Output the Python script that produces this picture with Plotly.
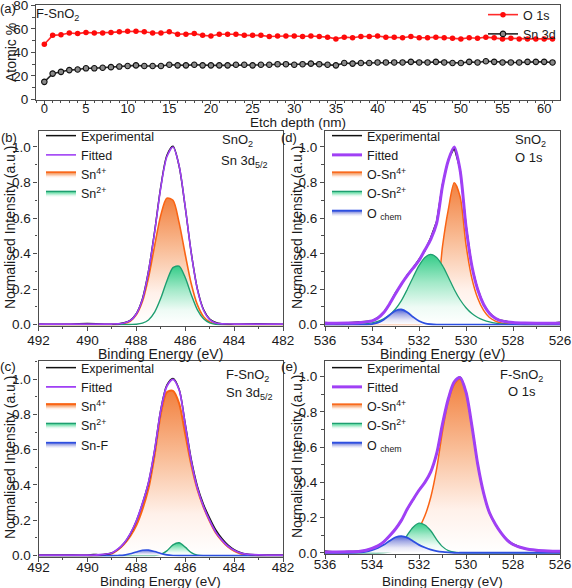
import plotly.graph_objects as go

# ---------------- data: panel (a) depth profile ----------------
depth_nm = list(range(62))
o1s_pct = [47, 54.5, 55, 56.5, 56, 57, 56.5, 56.5, 57, 57.5,
           58, 58, 57.5, 56.5, 56.5, 57.5, 55.5, 55.5, 56, 54.5,
           54, 55.5, 55.5, 55.5, 54.5, 54.5, 54.5, 53.5, 54, 54,
           54, 53.5, 54, 53.5, 53, 51.5, 53, 52.5, 53.5, 53.5,
           54, 53, 53, 52.5, 53.5, 52.5, 52.5, 53, 52.5, 52,
           51.5, 52.5, 52, 53, 52.5, 51.5, 52, 51.5, 51.5, 51.5,
           51.5, 51.5]
sn3d_pct = [15, 22, 23.5, 25, 25.5, 26.5, 26.5, 27, 27.5, 28,
            28.5, 29, 28.5, 28.5, 28.5, 29.5, 29, 29, 29.5, 29,
            29, 29, 29, 29.5, 29.5, 29, 29.5, 29.5, 30, 30,
            29.5, 30, 30.5, 30, 29.5, 29, 31, 30.5, 31, 31,
            31.5, 31.5, 31.5, 31.5, 32, 31.5, 31.5, 32, 31.5, 31,
            31, 32, 31.5, 32.5, 32, 31.5, 31.5, 31.5, 32, 32,
            32, 31.5]

# ---------------- data: panel (b) SnO2 Sn 3d5/2 ----------------
be_b = [492, 491, 490, 489, 488.75, 488.5, 488.25, 488, 487.75, 487.5, 487.25, 487,
        486.75, 486.5, 486.25, 486, 485.75, 485.5, 485.25, 485, 484.75, 484.5, 484, 483, 482]
b_exp = [0.004, 0.002, 0.006, 0.002, 0.004, 0.010, 0.024, 0.062, 0.145, 0.302, 0.525, 0.775,
         0.952, 1.004, 0.893, 0.662, 0.402, 0.200, 0.085, 0.032, 0.012, 0.005, 0.002, 0.005, 0.002]
b_fit = [0.003, 0.003, 0.003, 0.003, 0.004, 0.009, 0.022, 0.060, 0.141, 0.300, 0.520, 0.770,
         0.945, 1.000, 0.895, 0.664, 0.400, 0.197, 0.081, 0.028, 0.009, 0.004, 0.003, 0.003, 0.003]
b_sn4 = [0, 0, 0, 0, 0.001, 0.006, 0.019, 0.055, 0.130, 0.265, 0.445, 0.615,
         0.712, 0.700, 0.574, 0.396, 0.229, 0.111, 0.045, 0.015, 0.004, 0.001, 0, 0, 0]
b_sn2 = [0, 0, 0, 0, 0, 0, 0.001, 0.002, 0.008, 0.026, 0.070, 0.148,
         0.246, 0.321, 0.329, 0.265, 0.168, 0.083, 0.033, 0.010, 0.002, 0, 0, 0, 0]

# ---------------- data: panel (c) F-SnO2 Sn 3d5/2 ----------------
be_c = [492, 491, 490, 489.75, 489.5, 489, 488.75, 488.5, 488.25, 488, 487.75, 487.5,
        487.25, 487, 486.75, 486.5, 486.25, 486, 485.75, 485.5, 485.25, 485, 484.75,
        484.5, 484.25, 484, 483.75, 483.5, 483, 482]
c_exp = [0.003, 0.004, 0.002, 0.007, 0.005, 0.015, 0.036, 0.070, 0.122, 0.195, 0.294, 0.414,
         0.596, 0.825, 0.965, 1.003, 0.942, 0.748, 0.543, 0.392, 0.290, 0.212, 0.145,
         0.097, 0.060, 0.034, 0.018, 0.009, 0.004, 0.003]
c_fit = [0.003, 0.003, 0.003, 0.003, 0.005, 0.015, 0.037, 0.071, 0.123, 0.196, 0.295, 0.415,
         0.597, 0.822, 0.959, 0.998, 0.939, 0.741, 0.533, 0.381, 0.278, 0.199, 0.133,
         0.088, 0.053, 0.030, 0.015, 0.008, 0.004, 0.003]
c_sn4 = [0, 0, 0, 0, 0.002, 0.012, 0.033, 0.065, 0.110, 0.172, 0.262, 0.381,
         0.570, 0.800, 0.925, 0.933, 0.863, 0.690, 0.513, 0.375, 0.275, 0.196, 0.130,
         0.085, 0.050, 0.027, 0.012, 0.005, 0.001, 0]
c_sn2 = [0, 0, 0, 0, 0, 0, 0, 0, 0, 0, 0, 0,
         0.001, 0.007, 0.027, 0.061, 0.073, 0.048, 0.017, 0.003, 0, 0, 0,
         0, 0, 0, 0, 0, 0, 0]
c_snf = [0, 0, 0, 0, 0, 0, 0.001, 0.003, 0.010, 0.021, 0.030, 0.031,
         0.023, 0.012, 0.004, 0.001, 0, 0, 0, 0, 0, 0, 0,
         0, 0, 0, 0, 0, 0, 0]

# ---------------- data: panel (d) SnO2 O 1s ----------------
be_d = [536, 535.5, 535, 534.5, 534, 533.75, 533.5, 533.25, 533, 532.75, 532.5, 532.25,
        532, 531.75, 531.5, 531.25, 531, 530.75, 530.5, 530.25, 530, 529.75, 529.5,
        529.25, 529, 528.75, 528.5, 528, 527.5, 527, 526.5, 526]
d_exp = [0.012, 0.006, 0.010, 0.015, 0.020, 0.040, 0.070, 0.115, 0.180, 0.225, 0.280, 0.320,
         0.365, 0.415, 0.490, 0.580, 0.790, 0.930, 0.995, 0.875, 0.560, 0.325, 0.200,
         0.110, 0.066, 0.034, 0.024, 0.012, 0.007, 0.011, 0.006, 0.013]
d_fit = [0.008, 0.008, 0.009, 0.012, 0.021, 0.037, 0.068, 0.117, 0.174, 0.228, 0.276, 0.318,
         0.361, 0.420, 0.480, 0.570, 0.780, 0.925, 1.000, 0.868, 0.553, 0.330, 0.196,
         0.113, 0.063, 0.036, 0.021, 0.012, 0.009, 0.008, 0.008, 0.008]
d_osn4 = [0, 0, 0, 0, 0, 0, 0, 0, 0, 0, 0, 0,
          0.001, 0.008, 0.035, 0.130, 0.440, 0.650, 0.798, 0.720, 0.450, 0.260, 0.148,
          0.080, 0.040, 0.020, 0.009, 0.003, 0.001, 0, 0, 0]
d_osn2 = [0, 0, 0.001, 0.003, 0.010, 0.018, 0.032, 0.055, 0.088, 0.135, 0.198, 0.267,
          0.332, 0.378, 0.395, 0.378, 0.332, 0.267, 0.198, 0.140, 0.095, 0.062, 0.040,
          0.025, 0.015, 0.008, 0.004, 0.001, 0, 0, 0, 0]
d_ochem = [0, 0, 0, 0, 0.003, 0.011, 0.028, 0.054, 0.078, 0.085, 0.070, 0.043,
           0.020, 0.007, 0.002, 0, 0, 0, 0, 0, 0, 0, 0,
           0, 0, 0, 0, 0, 0, 0, 0, 0]

# ---------------- data: panel (e) F-SnO2 O 1s ----------------
be_e = [536, 535.5, 535, 534.5, 534.25, 534, 533.75, 533.5, 533.25, 533, 532.75, 532.5,
        532.25, 532, 531.75, 531.5, 531.25, 531, 530.75, 530.5, 530.25, 530, 529.75,
        529.5, 529.25, 529, 528.75, 528.5, 528.25, 528, 527.5, 527, 526.5, 526]
e_exp = [0.010, 0.004, 0.007, 0.008, 0.015, 0.024, 0.040, 0.064, 0.095, 0.136, 0.183, 0.247,
         0.302, 0.356, 0.400, 0.460, 0.563, 0.732, 0.877, 0.972, 0.997, 0.912, 0.722,
         0.502, 0.339, 0.227, 0.162, 0.112, 0.074, 0.050, 0.025, 0.013, 0.009, 0.007]
e_fit = [0.005, 0.005, 0.006, 0.009, 0.0145, 0.025, 0.039, 0.062, 0.096, 0.135, 0.184, 0.248,
         0.303, 0.355, 0.400, 0.460, 0.563, 0.732, 0.876, 0.970, 0.995, 0.912, 0.722,
         0.502, 0.339, 0.227, 0.162, 0.112, 0.072, 0.047, 0.024, 0.014, 0.010, 0.008]
e_osn4 = [0.003, 0.003, 0.004, 0.005, 0.0065, 0.008, 0.010, 0.014, 0.021, 0.030, 0.042, 0.060,
          0.090, 0.140, 0.210, 0.315, 0.476, 0.690, 0.860, 0.955, 0.985, 0.910, 0.720,
          0.500, 0.337, 0.225, 0.160, 0.110, 0.070, 0.045, 0.022, 0.012, 0.008, 0.006]
e_osn2 = [0, 0, 0, 0, 0, 0, 0, 0.001, 0.005, 0.015, 0.045, 0.100,
          0.145, 0.168, 0.158, 0.125, 0.075, 0.035, 0.012, 0.004, 0.001, 0, 0,
          0, 0, 0, 0, 0, 0, 0, 0, 0, 0, 0]
e_ochem = [0, 0, 0, 0.002, 0.006, 0.015, 0.027, 0.045, 0.068, 0.088, 0.095, 0.086,
           0.066, 0.045, 0.030, 0.018, 0.010, 0.005, 0.002, 0, 0, 0, 0,
           0, 0, 0, 0, 0, 0, 0, 0, 0, 0, 0]

# ---------------- styling ----------------
W, H = 572, 588
FONT = "Arial, 'Liberation Sans', sans-serif"
AXC = "#4d4d4d"
TXT = "#1a1a1a"
PURPLE = "#a040f5"
ORANGE = "#fa6414"
GREEN = "#1e9e70"
BLUE = "#2d4fe0"
ORANGE_SCALE = [[0, "#ffffff"], [0.25, "#fff1ea"], [0.6, "#f9bd97"], [1, "#f2803e"]]
GREEN_SCALE = [[0, "#ffffff"], [0.25, "#eefbf5"], [0.6, "#a2e9c8"], [1, "#34cc88"]]
BLUE_SCALE = [[0, "#ffffff"], [0.3, "#e8e8f7"], [0.7, "#a0a7e4"], [1, "#4a5fd8"]]


def fx(p):
    return p / W


def fy(p):
    return 1 - p / H


fig = go.Figure()

# panel (a)
fig.add_trace(go.Scatter(x=depth_nm, y=o1s_pct, name="O 1s", mode="lines+markers",
                         line=dict(color="#ff2a2a", width=1.6),
                         marker=dict(color="#ff0a0a", size=5.5),
                         xaxis="x", yaxis="y", legend="legend"))
fig.add_trace(go.Scatter(x=depth_nm, y=sn3d_pct, name="Sn 3d", mode="lines+markers",
                         line=dict(color="#262626", width=1.6),
                         marker=dict(color="#8a8a8a", size=5.5, line=dict(color="#111111", width=1.1)),
                         xaxis="x", yaxis="y", legend="legend"))


def component(x, y, name, color, scale, xa, ya, leg, rank, width=1.5):
    return go.Scatter(x=x, y=y, name=name, mode="lines",
                      line=dict(color=color, width=width, shape="spline", smoothing=0.8),
                      fill="tozeroy", fillgradient=dict(type="vertical", colorscale=scale),
                      xaxis=xa, yaxis=ya, legend=leg, legendrank=rank)


def curve(x, y, name, color, width, xa, ya, leg, rank, shape="spline"):
    return go.Scatter(x=x, y=y, name=name, mode="lines",
                      line=dict(color=color, width=width, shape=shape, smoothing=0.8),
                      xaxis=xa, yaxis=ya, legend=leg, legendrank=rank)


# panel (b)
fig.add_trace(component(be_b, b_sn4, "Sn<sup>4+</sup>", ORANGE, ORANGE_SCALE, "x2", "y2", "legend2", 3, 1.6))
fig.add_trace(component(be_b, b_sn2, "Sn<sup>2+</sup>", GREEN, GREEN_SCALE, "x2", "y2", "legend2", 4, 1.4))
fig.add_trace(curve(be_b, b_exp, "Experimental", "#111111", 1.5, "x2", "y2", "legend2", 1))
fig.add_trace(curve(be_b, b_fit, "Fitted", PURPLE, 1.6, "x2", "y2", "legend2", 2))

# panel (d)
fig.add_trace(component(be_d, d_osn4, "O-Sn<sup>4+</sup>", ORANGE, ORANGE_SCALE, "x3", "y3", "legend3", 3, 1.5))
fig.add_trace(component(be_d, d_osn2, "O-Sn<sup>2+</sup>", GREEN, GREEN_SCALE, "x3", "y3", "legend3", 4, 1.3))
fig.add_trace(component(be_d, d_ochem, "O <sub>chem</sub>", BLUE, BLUE_SCALE, "x3", "y3", "legend3", 5, 1.8))
fig.add_trace(curve(be_d, d_exp, "Experimental", "#111111", 1.5, "x3", "y3", "legend3", 1, "linear"))
fig.add_trace(curve(be_d, d_fit, "Fitted", PURPLE, 3, "x3", "y3", "legend3", 2))

# panel (c)
fig.add_trace(component(be_c, c_sn4, "Sn<sup>4+</sup>", ORANGE, ORANGE_SCALE, "x4", "y4", "legend4", 3, 2))
fig.add_trace(component(be_c, c_sn2, "Sn<sup>2+</sup>", GREEN, GREEN_SCALE, "x4", "y4", "legend4", 4, 1.4))
fig.add_trace(component(be_c, c_snf, "Sn-F", BLUE, BLUE_SCALE, "x4", "y4", "legend4", 5, 1.6))
fig.add_trace(curve(be_c, c_exp, "Experimental", "#111111", 1.5, "x4", "y4", "legend4", 1))
fig.add_trace(curve(be_c, c_fit, "Fitted", PURPLE, 1.8, "x4", "y4", "legend4", 2))

# panel (e)
fig.add_trace(component(be_e, e_osn4, "O-Sn<sup>4+</sup>", ORANGE, ORANGE_SCALE, "x5", "y5", "legend5", 3, 1.5))
fig.add_trace(component(be_e, e_osn2, "O-Sn<sup>2+</sup>", GREEN, GREEN_SCALE, "x5", "y5", "legend5", 4, 1.3))
fig.add_trace(component(be_e, e_ochem, "O <sub>chem</sub>", BLUE, BLUE_SCALE, "x5", "y5", "legend5", 5, 1.8))
fig.add_trace(curve(be_e, e_exp, "Experimental", "#111111", 1.5, "x5", "y5", "legend5", 1))
fig.add_trace(curve(be_e, e_fit, "Fitted", PURPLE, 3, "x5", "y5", "legend5", 2))


def axis(domain, rng, dtick, minor_dtick, anchor, tickformat=None, ticklen=4, standoff=0, fsize=13.5):
    d = dict(domain=domain, range=rng, dtick=dtick, tick0=0, anchor=anchor,
             showline=True, linecolor=AXC, linewidth=1.2, mirror=True,
             ticks="outside", ticklen=ticklen, tickwidth=1, tickcolor=AXC,
             showgrid=False, zeroline=False, automargin=False, fixedrange=True,
             ticklabelstandoff=standoff, ticklabeloverflow="allow",
             tickfont=dict(size=fsize, color=TXT, family=FONT),
             minor=dict(dtick=minor_dtick, ticks="outside", ticklen=2.5,
                        tickcolor=AXC, tickwidth=1, showgrid=False))
    if tickformat:
        d["tickformat"] = tickformat
    return d


XL = [fx(38.5), fx(283)]
XR = [fx(325), fx(560)]
YT = [fy(325.5), fy(131)]
YB_C = [fy(556.5), fy(360.5)]
YB_E = [fy(554), fy(360.5)]

legend_common = dict(bgcolor="rgba(0,0,0,0)", borderwidth=0,
                     font=dict(size=12.5, family=FONT, color=TXT),
                     itemwidth=30, xanchor="left", yanchor="top",
                     tracegroupgap=0, traceorder="normal")


def txt(x, y, s, size=13.5, angle=0):
    return dict(x=fx(x), y=fy(y), xref="paper", yref="paper", text=s, showarrow=False,
                textangle=angle, font=dict(size=size, family=FONT, color=TXT),
                xanchor="center", yanchor="middle")


annotations = [
    txt(8, 8, "(a)", 13), txt(9, 137, "(b)", 13), txt(289, 137, "(d)", 13),
    txt(8, 366, "(c)", 13.5), txt(289, 366, "(e)", 13.5),
    txt(57, 15, "F-SnO<sub>2</sub>", 13),
    txt(237, 140, "SnO<sub>2</sub>", 13), txt(244, 161, "Sn 3d<sub>5/2</sub>", 13),
    txt(530, 140, "SnO<sub>2</sub>", 13), txt(529, 157, "O 1s", 13),
    txt(247, 375, "F-SnO<sub>2</sub>", 13), txt(249, 393, "Sn 3d<sub>5/2</sub>", 13),
    txt(521, 375, "F-SnO<sub>2</sub>", 13), txt(522, 391, "O 1s", 13),
    txt(298, 123, "Etch depth (nm)", 13.5),
    txt(11, 53, "Atomic %", 14, -90),
    txt(160.7, 354, "Binding Energy (eV)", 14), txt(442.5, 354, "Binding Energy (eV)", 14),
    txt(160.7, 581.5, "Binding Energy (eV)", 13.5), txt(442.5, 581.5, "Binding Energy (eV)", 13.5),
    txt(10, 228, "Normalised Intensity (a.u.)", 14, -90),
    txt(297, 228, "Normalised Intensity (a.u.)", 14, -90),
    txt(10, 458, "Normalised Intensity (a.u.)", 14, -90),
    txt(297, 457, "Normalised Intensity (a.u.)", 14, -90),
]

fig.update_layout(
    width=W, height=H, autosize=False,
    margin=dict(l=0, r=0, t=0, b=0),
    paper_bgcolor="white", plot_bgcolor="white",
    font=dict(family=FONT, color=TXT),
    showlegend=True,
    xaxis=axis([fx(36), fx(560)], [-1, 61.9], 5, 1, "y", ticklen=3, standoff=-6, fsize=13),
    yaxis=axis([fy(99.5), fy(5)], [0, 80.3], 20, 10, "x"),
    xaxis2=axis(XL, [492, 482], 2, 1, "y2", standoff=-2),
    yaxis2=axis(YT, [-0.005, 1.09], 0.2, 0.1, "x2", ".1f"),
    xaxis3=axis(XR, [536, 526], 2, 1, "y3", standoff=-2),
    yaxis3=axis(YT, [-0.005, 1.09], 0.2, 0.1, "x3", ".1f"),
    xaxis4=axis(XL, [492, 482], 2, 1, "y4", standoff=-6),
    yaxis4=axis(YB_C, [-0.005, 1.105], 0.2, 0.1, "x4", ".1f"),
    xaxis5=axis(XR, [536, 526], 2, 1, "y5", standoff=-6),
    yaxis5=axis(YB_E, [-0.007, 1.092], 0.2, 0.1, "x5", ".1f"),
    legend=dict(legend_common, x=fx(561), xanchor="right", y=1.0),
    legend2=dict(legend_common, x=fx(41), y=fy(121)),
    legend3=dict(legend_common, x=fx(327), y=fy(121)),
    legend4=dict(legend_common, x=fx(41), y=fy(353)),
    legend5=dict(legend_common, x=fx(327), y=fy(353)),
    annotations=annotations,
)

fig.write_html(
    "out.html",
    config={"displayModeBar": False},
    post_script="document.body.style.margin='0px';document.body.style.padding='0px';"
                "document.documentElement.style.overflow='hidden';document.body.style.overflow='hidden';",
)
